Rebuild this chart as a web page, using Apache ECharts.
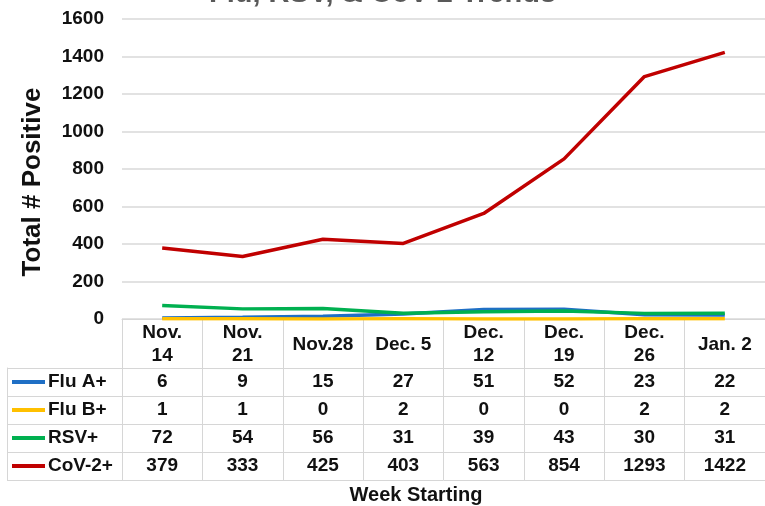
<!DOCTYPE html>
<html>
<head>
<meta charset="utf-8">
<script src="https://cdn.jsdelivr.net/npm/echarts@6/dist/echarts.min.js"></script>
<style>html,body{margin:0;padding:0;background:#fff}#c{width:765px;height:506px}</style>
</head>
<body>
<div id="c"></div>
<script>
const weeks = ['Nov.\n14','Nov.\n21','Nov.28','Dec. 5','Dec.\n12','Dec.\n19','Dec.\n26','Jan. 2'];
const seriesNames = ['Flu A+','Flu B+','RSV+','CoV-2+'];
const fluA = [6,9,15,27,51,52,23,22];
const fluB = [1,1,0,2,0,0,2,2];
const rsv = [72,54,56,31,39,43,30,31];
const cov2 = [379,333,425,403,563,854,1293,1422];
const yTicks = {min:0, max:1600, interval:200};
const colors = ['#1F6FC5','#FFC000','#00B050','#C00000'];
const allValues = [fluA, fluB, rsv, cov2];

const FONT = 'Liberation Sans, Arial, sans-serif';
const GRID_C = '#d6d6d6';
const HEADER_H = 49, ROW_H = 28;
const FS = 19;

const chart = echarts.init(document.getElementById('c'));

const rowAxes = allValues.map((vals, i) => ({
  type: 'category', gridIndex: 0, position: 'bottom',
  offset: HEADER_H + ROW_H * i,
  data: vals.map(String),
  axisLine: {show: true, lineStyle: {color: GRID_C, width: 1}},
  axisTick: {show: true, length: ROW_H, interval: 0, lineStyle: {color: GRID_C}},
  axisLabel: {show: true, interval: 0, margin: 14, verticalAlign: 'middle',
    fontFamily: FONT, fontWeight: 'bold', fontSize: FS, color: '#111'},
  splitLine: {show: false}
}));

const rich = {t: {fontFamily: FONT, fontWeight: 'bold', fontSize: FS, color: '#111', padding: [0,0,0,3]}};
colors.forEach((c, i) => { rich['b' + i] = {width: 33, height: 4, backgroundColor: c}; });

const option = {
  animation: false,
  title: {
    text: 'Flu, RSV, & CoV-2 Trends', left: 'center', top: -26,
    textStyle: {fontFamily: FONT, fontWeight: 'bold', fontSize: 29, color: '#595959'}
  },
  grid: [
    {left: 122, right: 0, top: 19, height: 300},
    {left: 7, width: 115, top: 368, height: 112}
  ],
  xAxis: [
    {
      type: 'category', gridIndex: 0, data: weeks, boundaryGap: true,
      axisLine: {show: true, lineStyle: {color: GRID_C, width: 1}},
      axisTick: {show: true, length: HEADER_H, interval: 0, lineStyle: {color: GRID_C}},
      axisLabel: {interval: 0, margin: 25.5, verticalAlign: 'middle', lineHeight: 23,
        fontFamily: FONT, fontWeight: 'bold', fontSize: FS, color: '#111'}
    },
    ...rowAxes,
    {
      type: 'category', gridIndex: 0, position: 'bottom',
      offset: HEADER_H + ROW_H * 4, data: weeks,
      axisLine: {show: true, lineStyle: {color: GRID_C, width: 1}},
      axisTick: {show: false}, axisLabel: {show: false}
    },
    {type: 'value', gridIndex: 1, show: false}
  ],
  yAxis: [
    {
      type: 'value', gridIndex: 0, min: yTicks.min, max: yTicks.max, interval: yTicks.interval,
      name: 'Total # Positive', nameLocation: 'middle', nameGap: 76,
      nameTextStyle: {fontFamily: FONT, fontWeight: 'bold', fontSize: 26, color: '#111', padding: [0, 26, 0, 0]},
      axisLine: {show: false}, axisTick: {show: false},
      axisLabel: {margin: 18, fontFamily: FONT, fontWeight: 'bold', fontSize: FS, color: '#111',
        formatter: v => String(v)},
      splitLine: {lineStyle: {color: '#d9d9d9', width: 1.5}}
    },
    {
      type: 'category', gridIndex: 1, inverse: true, data: seriesNames,
      axisLine: {show: true, lineStyle: {color: GRID_C, width: 1}},
      axisTick: {show: false},
      splitLine: {show: true, interval: 0, lineStyle: {color: GRID_C, width: 1}},
      axisLabel: {inside: true, margin: 5, align: 'left', interval: 0,
        formatter: (v, i) => '{b' + i + '|}{t|' + v + '}', rich: rich}
    }
  ],
  graphic: [{
    type: 'text', x: 416, y: 485,
    style: {text: 'Week Starting', font: 'bold 20px ' + FONT, fill: '#111', align: 'center', verticalAlign: 'top'}
  }],
  series: allValues.map((vals, i) => ({
    name: seriesNames[i], type: 'line', xAxisIndex: 0, yAxisIndex: 0,
    data: vals, showSymbol: false, symbol: 'none',
    lineStyle: {color: colors[i], width: 3.5},
    itemStyle: {color: colors[i]}
  }))
};
chart.setOption(option);
</script>
</body>
</html>
